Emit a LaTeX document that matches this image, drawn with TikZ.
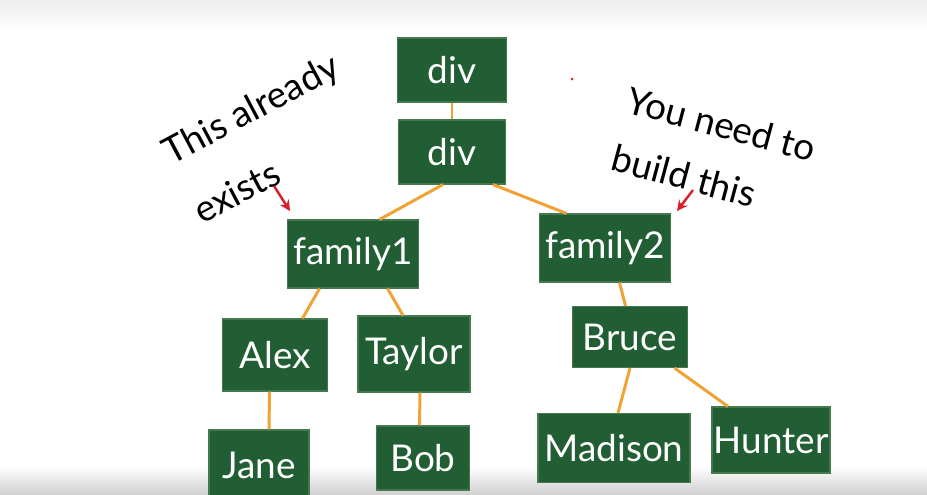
\documentclass[tikz,border=0pt]{standalone}
\usepackage{fontspec}
\setmainfont{Lato}
\usepackage{tikz}
\usetikzlibrary{arrows.meta}
\definecolor{boardgreen}{RGB}{33,94,52}
\definecolor{boardedge}{RGB}{70,120,80}
\definecolor{linkorange}{RGB}{240,162,52}
\definecolor{markred}{RGB}{214,32,44}
\tikzset{
    box/.style={fill=boardgreen, draw=boardedge, line width=0.6pt, text=white,
        inner sep=0pt, font=\fontsize{21}{24}\selectfont},
    link/.style={draw=linkorange, line width=1.7pt},
    note/.style={text=black, align=left, inner sep=0pt},
    pointer/.style={draw=markred, line width=1.4pt, -{Stealth[length=6pt,width=6pt]}},
}
\begin{document}
\begin{tikzpicture}[x=0.02cm,y=-0.02cm]
\useasboundingbox (0,0) rectangle (927,494);
\fill[white] (0,0) rectangle (927,494);
\shade[top color=black!7, bottom color=white] (0,0) rectangle (927,30);
\shade[top color=white, bottom color=black!18] (0,466) rectangle (927,494);

% tree
\node[box, minimum width=2.18cm, minimum height=1.28cm] (div1) at (452,70) {div};
\node[box, minimum width=2.14cm, minimum height=1.28cm] (div2) at (452,152) {div};
\node[box, minimum width=2.62cm, minimum height=1.36cm] (family1) at (353,254) {family1};
\node[box, minimum width=2.62cm, minimum height=1.36cm] (family2) at (605,248) {family2};
\node[box, minimum width=2.10cm, minimum height=1.44cm] (alex) at (275,355) {Alex};
\node[box, minimum width=2.24cm, minimum height=1.52cm] (taylor) at (414,354) {Taylor};
\node[box, minimum width=2.00cm, minimum height=1.40cm] (jane) at (259,465) {Jane};
\node[box, minimum width=1.86cm, minimum height=1.28cm] (bob) at (423,458) {Bob};
\node[box, minimum width=2.30cm, minimum height=1.22cm] (bruce) at (630,337) {Bruce};
\node[box, minimum width=3.04cm, minimum height=1.38cm] (madison) at (614,448) {Madison};
\node[box, minimum width=2.36cm, minimum height=1.32cm] (hunter) at (771,440) {Hunter};

\draw[link] (div1) -- (div2);
\draw[link] ([xshift=-0.18cm]div2.south) -- ([xshift=0.53cm]family1.north);
\draw[link] ([xshift=0.82cm]div2.south) -- ([xshift=-0.77cm]family2.north);
\draw[link] ([xshift=-0.67cm]family1.south) -- ([xshift=0.55cm]alex.north);
\draw[link] ([xshift=0.69cm]family1.south) -- ([xshift=-0.22cm]taylor.north);
\draw[link] ([xshift=-0.11cm]alex.south) -- ([xshift=0.20cm]jane.north);
\draw[link] ([xshift=0.12cm]taylor.south) -- ([xshift=-0.07cm]bob.north);
\draw[link] ([xshift=0.29cm]family2.south) -- ([xshift=-0.09cm]bruce.north);
\draw[link] (bruce.south) -- ([xshift=0.08cm]madison.north);
\draw[link] ([xshift=0.89cm]bruce.south) -- ([xshift=-0.86cm]hunter.north);

% notes
\node[note, rotate=28, font=\fontsize{21}{38}\selectfont] (exists) at (266,138) {This already\\exists};
\node[note, rotate=-15, font=\fontsize{21}{34}\selectfont] (build) at (714,153) {You need to\\build this};
\coordinate (leftfrom) at (274,186);
\coordinate (leftto) at (290,211);
\coordinate (rightfrom) at (693,190);
\coordinate (rightto) at (677,211);
\draw[pointer] (leftfrom) -- (leftto);
\draw[pointer] (rightfrom) -- (rightto);
\fill[markred] (572,79) circle (1.5);
\end{tikzpicture}
\end{document}
